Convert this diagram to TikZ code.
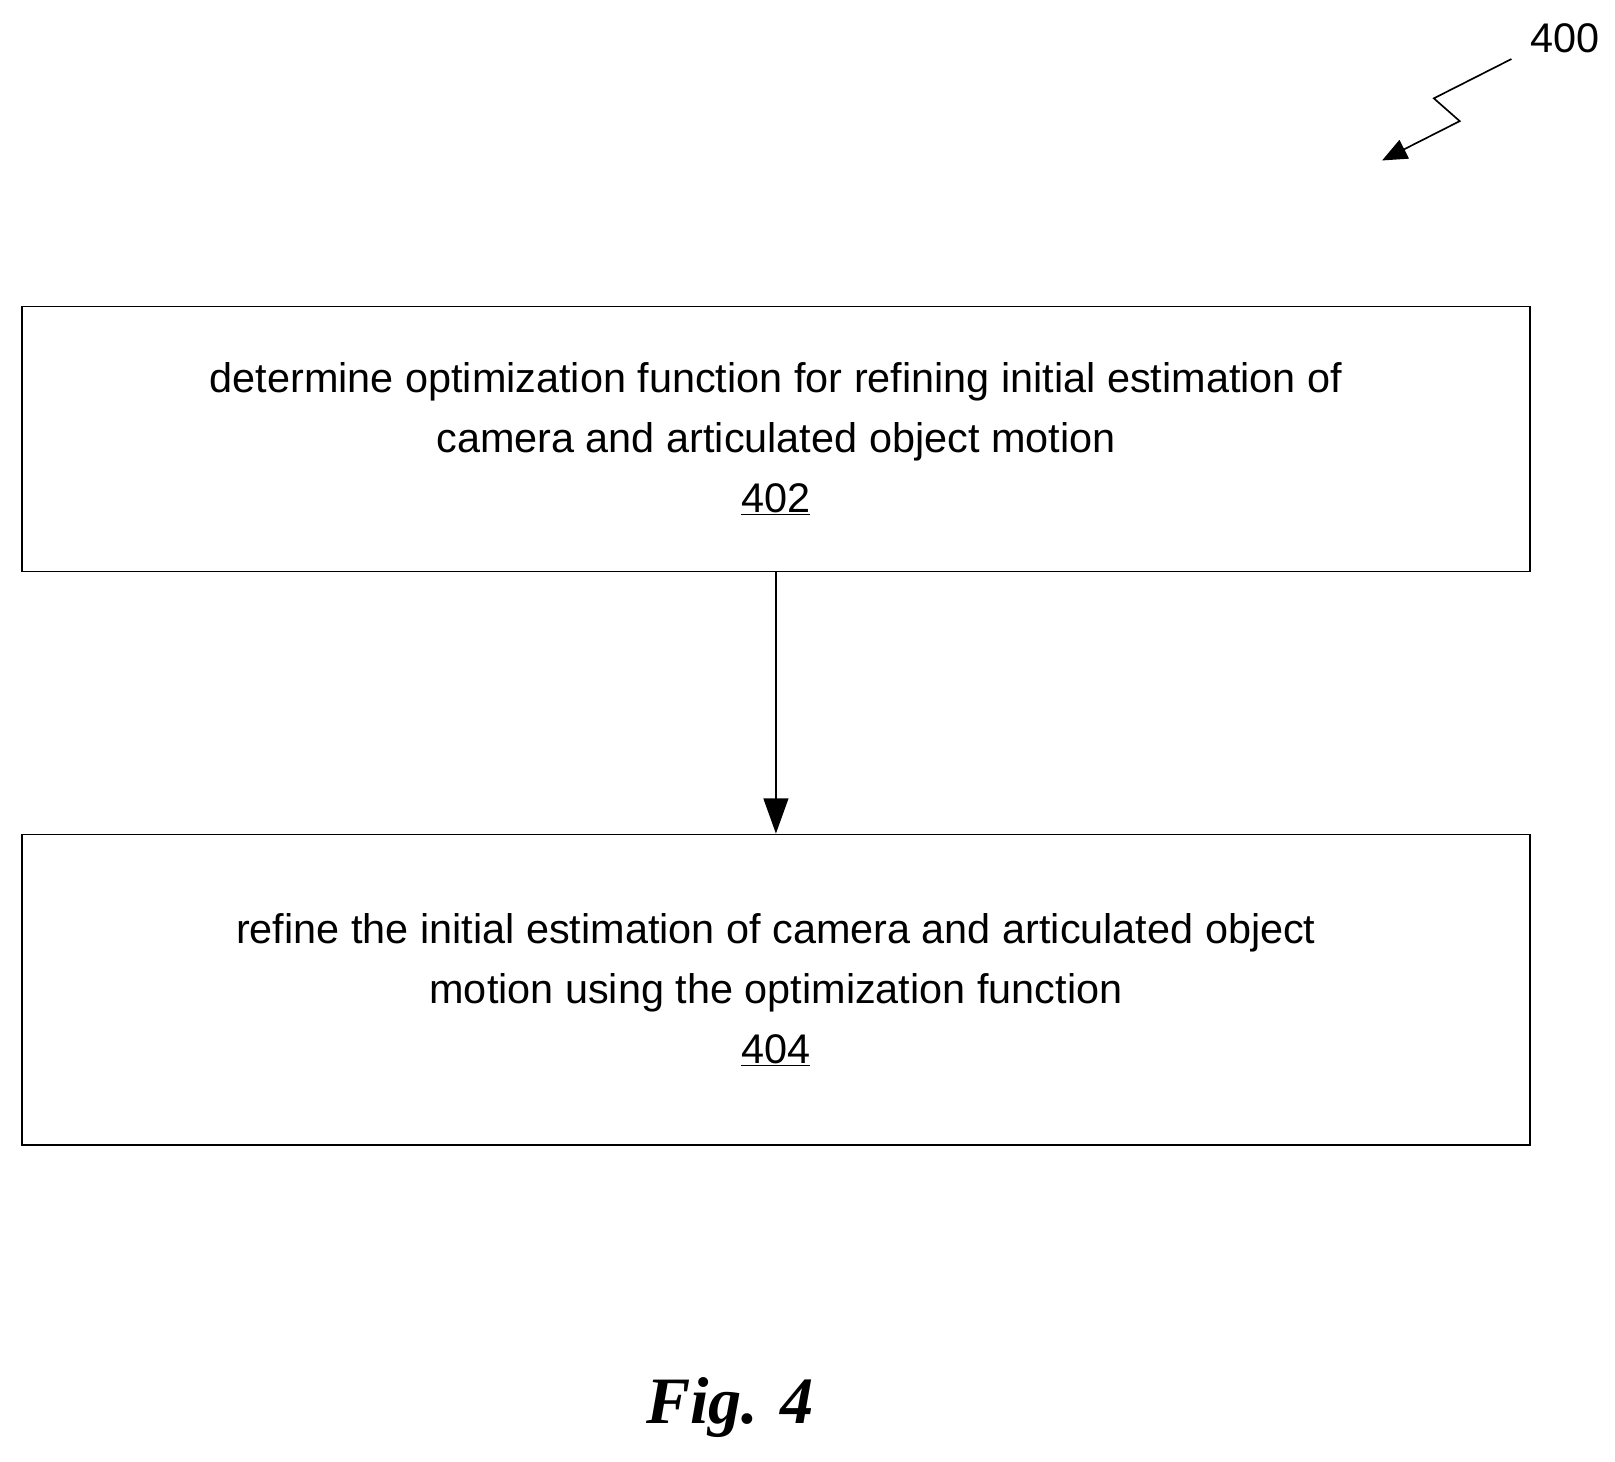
\documentclass[tikz,border=0pt]{standalone}
\usepackage{fontspec}
\setmainfont{Liberation Sans}
\newfontfamily\figfont{Liberation Serif}
\usetikzlibrary{positioning,arrows.meta}

\tikzset{
  stepbox/.style={draw, line width=1.6pt, minimum width=1457pt, align=center,
    font=\fontsize{40}{58}\selectfont, inner sep=0pt},
  flow/.style={-{Triangle[length=34pt,width=24pt]}, line width=1.6pt}
}

\begin{document}
\begin{tikzpicture}[x=1pt,y=-1pt]
  \useasboundingbox (0,0) rectangle (1560,1412);
  \node[stepbox, minimum height=256pt] (s402) at (749.5,424)
    {determine optimization function for refining initial estimation of\\
     camera and articulated object motion\\ \underline{402}};
  \node[stepbox, minimum height=300pt] (s404) at (749.5,956)
    {refine the initial estimation of camera and articulated object\\
     motion using the optimization function\\ \underline{404}};
  \draw[flow] (s402) -- (s404);

  % reference numeral
  \node[font=\fontsize{40}{48}\selectfont] (n400) at (1512,37) {400};
  \coordinate (z0) at (1460,57);
  \coordinate (z3) at (1335,155);
  \draw[line width=1.6pt, -{Triangle[length=24pt,width=20pt]}]
    (z0) -- (1385,95) -- (1410,117) -- (z3);

  \node[font=\figfont\bfseries\itshape\fontsize{64}{70}\selectfont] (fig) at (705,1360) {Fig. 4};
\end{tikzpicture}
\end{document}
